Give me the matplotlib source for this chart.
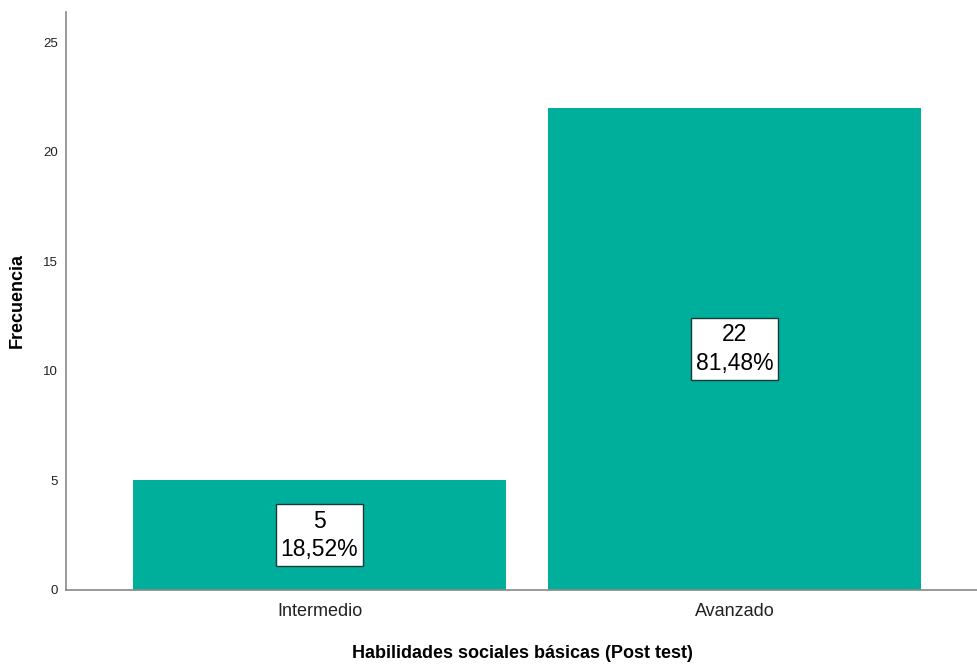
import matplotlib

matplotlib.use("Agg")
import matplotlib.pyplot as plt

# Frequencies per level (Post test)
categories = ["Intermedio", "Avanzado"]
counts = [5, 22]
percents = ["18,52%", "81,48%"]
yticks = [0, 5, 10, 15, 20, 25]

teal = "#00af9b"
axis_grey = "#888888"

plt.rcParams["font.family"] = ["Liberation Sans", "DejaVu Sans"]

fig = plt.figure(figsize=(9.78, 6.66), dpi=100)
ax = fig.add_axes([66 / 978, 76 / 666, 1 - 66 / 978, (590 - 12) / 666])

x = list(range(len(categories)))
ax.bar(x, counts, width=0.9, color=teal, zorder=2)

for xi, c, p in zip(x, counts, percents):
    ax.text(xi, c / 2, f"{c}\n{p}", ha="center", va="center", fontsize=16.5,
            linespacing=1.3, zorder=3,
            bbox=dict(boxstyle="square,pad=0.22", fc="white", ec="#1a3a3a", lw=1))

ax.set_xlim(-0.611, 1.587)
ax.set_ylim(0, 26.37)
ax.set_xticks(x)
ax.set_xticklabels(categories, fontsize=13, color="#222222")
ax.set_yticks(yticks)
ax.set_yticklabels([str(t) for t in yticks], fontsize=9.5, color="#222222")
ax.tick_params(length=0, pad=9)
ax.tick_params(axis="y", pad=6)

ax.spines[["top", "right"]].set_visible(False)
for s in ("left", "bottom"):
    ax.spines[s].set_color(axis_grey)
    ax.spines[s].set_linewidth(1.2)

ax.set_xlabel("Habilidades sociales básicas (Post test)", fontsize=13,
              fontweight="bold", labelpad=18)
ax.set_ylabel("Frecuencia", fontsize=13, fontweight="bold", labelpad=12)

fig.savefig("out.png", dpi=100)
